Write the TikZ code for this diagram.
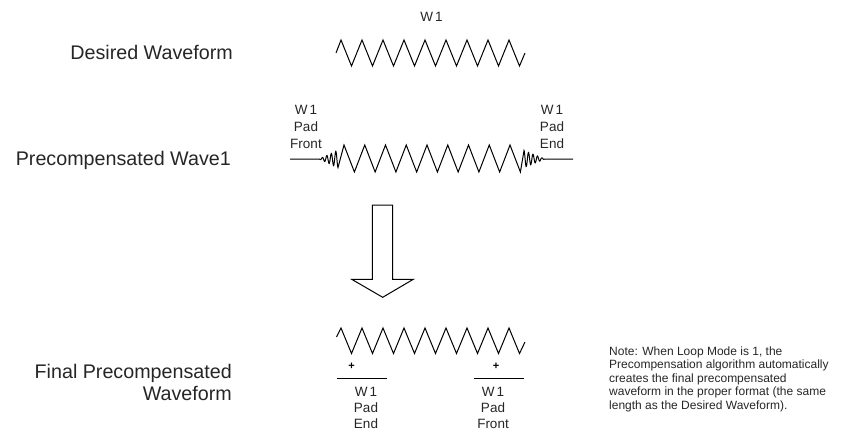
\documentclass[tikz,border=0pt]{standalone}
\usepackage{fontspec}
\setmainfont{Liberation Sans}
\begin{document}
\begin{tikzpicture}[x=1pt,y=-1pt,
  big/.style={font=\fontsize{19.7}{22}\selectfont, inner sep=0pt, text=black!85},
  small/.style={font=\fontsize{13.5}{17}\selectfont, inner sep=0pt, align=center, text=black!85},
  smallb/.style={font=\fontsize{13.5}{16}\selectfont, inner sep=0pt, align=center, text=black!85},
  note/.style={font=\fontsize{12}{13.4}\selectfont, inner sep=0pt, align=left, text=black!85},
  wave/.style={draw=black, line width=1pt, line join=miter}]
\useasboundingbox (0,0) rectangle (843,431);

% left labels
\node[big, anchor=base east] (lblDesired) at (233,59) {Desired Waveform};
\node[big, anchor=base east] (lblPre) at (231,165) {Precompensated Wave1};
\node[big, anchor=base east] (lblFinalA) at (232,378) {Final Precompensated};
\node[big, anchor=base east] (lblFinalB) at (232,400) {Waveform};

% top waveform
\node[small, anchor=center] (w1top) at (431.5,17) {W\,1};
\draw[wave] (336,53) \foreach \k in {0,...,8}{ -- ({341+21*\k},40) -- ({351.5+21*\k},66) } -- (525,53);

% precompensated waveform
\node[small, anchor=north] (padFront) at (306,105.3) {W\,1\\Pad\\Front};
\node[small, anchor=north] (padEnd) at (552,105.3) {W\,1\\Pad\\End};
\draw[wave] (290,159) -- (319,159)
  -- plot[domain=0:19,samples=70] ({319+\x},{159+0.45*\x*sin(80.5*\x)})
  \foreach \k in {0,...,8}{ -- ({344+20.75*\k},145) -- ({354.4+20.75*\k},172) }
  -- plot[domain=0:21,samples=70] ({524+\x},{159-0.4*(21-\x)*cos(80*\x)})
  -- (573,159);

% big arrow
\draw[line width=1pt, line join=miter] (372.3,205) -- (392.7,205) -- (392.7,279.3) -- (413.3,279.3)
  -- (382.7,297.3) -- (351.7,279.3) -- (372.3,279.3) -- cycle;

% final waveform
\draw[wave] (336.5,337) \foreach \k in {0,...,8}{ -- ({341+21*\k},328) -- ({351.5+21*\k},353.5) } -- (525,342);
\node[font=\fontsize{11}{11}\selectfont\bfseries, inner sep=0pt] (plusL) at (351.7,366) {+};
\node[font=\fontsize{11}{11}\selectfont\bfseries, inner sep=0pt] (plusR) at (496,366) {+};
\coordinate (barLa) at (336.7,378.3);
\coordinate (barLb) at (386.7,378.3);
\coordinate (barRa) at (474,378.3);
\coordinate (barRb) at (524,378.3);
\draw[line width=1pt] (barLa) -- (barLb);
\draw[line width=1pt] (barRa) -- (barRb);
\node[smallb, anchor=north] (finEnd) at (366,387) {W\,1\\Pad\\End};
\node[smallb, anchor=north] (finFront) at (493,387) {W\,1\\Pad\\Front};

% note
\node[note, anchor=north west] (noteTxt) at (609,346.5) {Note: When Loop Mode is 1, the\\Precompensation algorithm automatically\\creates the final precompensated\\waveform in the proper  format (the same\\length as the Desired Waveform).};
\end{tikzpicture}
\end{document}
